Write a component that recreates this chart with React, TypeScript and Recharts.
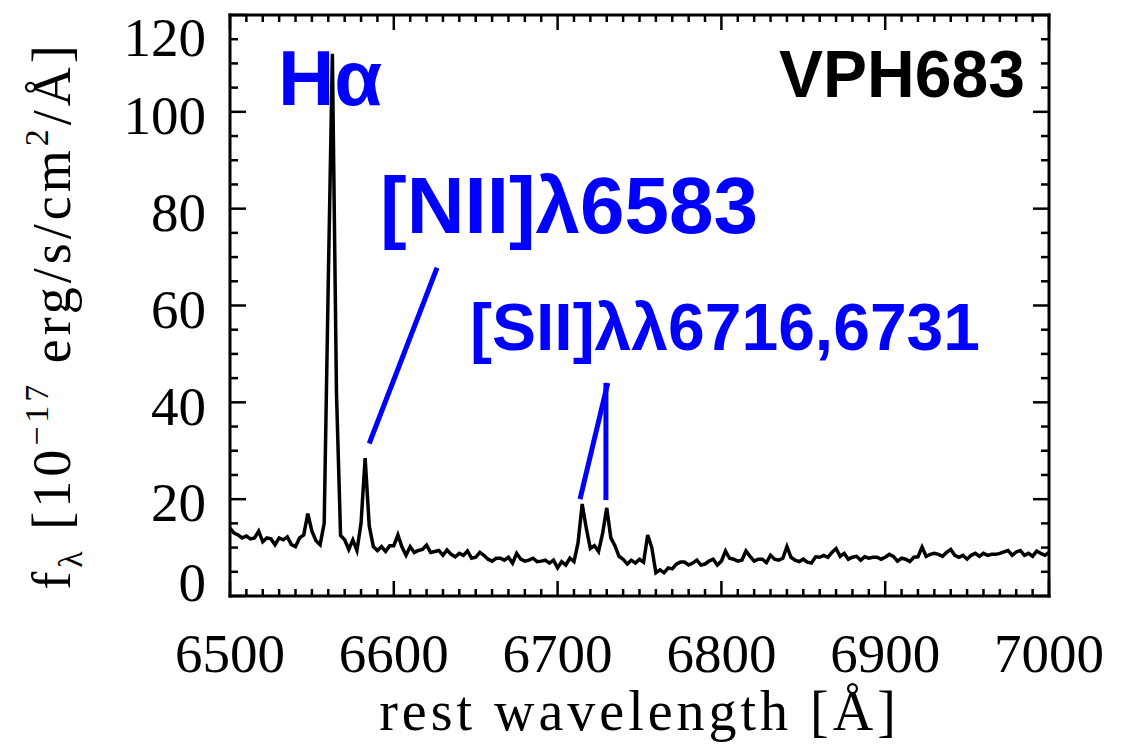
import React from 'react'
import { LineChart, Line, XAxis, YAxis, ReferenceLine, ReferenceDot } from 'recharts'

// spectrum sampled on a regular wavelength grid (Å), flux in 1e-17 erg/s/cm2/Å
const LAMBDA_START = 6500
const LAMBDA_STEP = 2.5
const FLUX = [
  14.0, 13.0, 12.6, 12.0, 12.4, 11.8, 12.0, 13.4, 11.2, 12.0,
  11.8, 10.6, 12.0, 11.6, 12.2, 10.6, 10.2, 12.0, 12.6, 17.0,
  13.4, 11.4, 10.6, 15.0, 65.0, 112.0, 42.0, 12.5, 11.6, 9.6,
  11.6, 9.4, 15.0, 28.5, 14.5, 10.2, 9.4, 10.2, 9.2, 10.4,
  10.4, 12.6, 10.1, 8.4, 10.2, 9.0, 9.4, 9.6, 10.5, 9.0,
  9.2, 9.4, 8.4, 9.5, 8.6, 8.1, 8.8, 8.4, 9.3, 7.8,
  8.0, 9.0, 8.4, 7.6, 7.2, 7.8, 7.8, 7.4, 8.0, 6.8,
  8.8, 7.6, 7.2, 7.4, 7.8, 7.1, 7.2, 7.4, 6.8, 7.4,
  5.8, 7.1, 6.4, 7.8, 7.1, 11.0, 19.0, 14.0, 9.8, 10.4,
  9.2, 13.0, 18.2, 12.0, 10.4, 8.2, 7.6, 6.6, 7.4, 6.8,
  7.6, 7.0, 12.6, 10.0, 4.8, 5.4, 4.8, 5.8, 5.6, 6.6,
  7.0, 7.0, 6.4, 6.8, 7.4, 6.4, 6.6, 7.2, 7.6, 6.4,
  7.2, 9.3, 7.8, 7.6, 7.2, 7.4, 9.3, 8.2, 7.2, 7.6,
  7.6, 6.9, 8.4, 7.6, 7.4, 7.8, 10.2, 8.0, 7.4, 7.1,
  7.6, 7.0, 6.8, 8.1, 8.0, 8.4, 8.0, 9.0, 9.8, 8.2,
  8.8, 7.6, 8.0, 8.2, 7.4, 8.1, 7.8, 8.0, 8.0, 7.6,
  8.0, 8.6, 8.2, 7.2, 7.8, 7.6, 7.1, 8.0, 8.1, 10.1,
  8.2, 8.6, 8.8, 8.6, 8.2, 9.0, 9.6, 8.4, 8.0, 8.4,
  7.6, 8.4, 8.8, 8.2, 8.8, 8.4, 8.6, 8.6, 8.8, 9.1,
  9.4, 8.4, 9.1, 9.4, 8.4, 8.8, 8.2, 9.3, 8.8, 8.4,
  9.0,
]

const X_DOMAIN = [6500, 7000]
const Y_DOMAIN = [0, 120]
const X_MAJOR_STEP = 100
const X_MINOR_STEP = 10
const Y_MAJOR_STEP = 20
const Y_MINOR_STEP = 5

// emission line labels (anchored in data coordinates)
const LABELS = [
  { text: 'Hα', x: 6529.3, y: 101.4, size: 78, color: '#0000ff', anchor: 'start' },
  { text: '[NII]λ6583', x: 6591.6, y: 74.9, size: 80, color: '#0000ff', anchor: 'start' },
  { text: '[SII]λλ6716,6731', x: 6646.5, y: 50.8, size: 66, color: '#0000ff', anchor: 'start' },
  { text: 'VPH683', x: 6985.3, y: 103.1, size: 66, color: '#000000', anchor: 'end' },
]

// leader lines from labels to the lines
const LEADERS = [
  [{ x: 6585.0, y: 31.5 }, { x: 6626.4, y: 67.8 }],
  [{ x: 6713.7, y: 20.0 }, { x: 6730.6, y: 44.0 }],
  [{ x: 6729.5, y: 19.8 }, { x: 6729.5, y: 44.0 }],
]

const data = FLUX.map((flux, i) => ({ wl: LAMBDA_START + i * LAMBDA_STEP, flux }))

const range = (a: number, b: number, step: number) => {
  const out: number[] = []
  for (let v = a; v <= b + 1e-9; v += step) out.push(v)
  return out
}
const xTicks = range(X_DOMAIN[0], X_DOMAIN[1], X_MINOR_STEP)
const yTicks = range(Y_DOMAIN[0], Y_DOMAIN[1], Y_MINOR_STEP)

const SERIF = '"Liberation Serif", "Times New Roman", serif'
const SANS = '"Liberation Sans", Arial, Helvetica, sans-serif'
const FRAME = { stroke: '#000', strokeWidth: 3, strokeLinecap: 'square' as const }
// tickSize + tickMargin: the tick props sit this far off the axis line
const TS = 4
const TM = 4
const OFF = TS + TM

// eslint-disable-next-line @typescript-eslint/no-explicit-any
const BottomTick = ({ x, y, payload }: any) => {
  const major = payload.value % X_MAJOR_STEP === 0
  const y0 = y - OFF
  return (
    <g>
      <line x1={x} x2={x} y1={y0} y2={y0 - (major ? 15 : 7)} stroke="#000" strokeWidth={2.5} />
      {major && (
        <text x={x} y={y0 + 76} textAnchor="middle" fontFamily={SERIF} fontSize={55} fill="#000">
          {payload.value}
        </text>
      )}
    </g>
  )
}

// eslint-disable-next-line @typescript-eslint/no-explicit-any
const TopTick = ({ x, y, payload }: any) => {
  const major = payload.value % X_MAJOR_STEP === 0
  const y0 = y + OFF
  return <line x1={x} x2={x} y1={y0} y2={y0 + (major ? 15 : 7)} stroke="#000" strokeWidth={2.5} />
}

// end labels sit a little inside the frame, as in the original figure
const yLabelShift = (v: number) => (v === Y_DOMAIN[1] ? 22 : v === Y_DOMAIN[0] ? -14 : 3)

// eslint-disable-next-line @typescript-eslint/no-explicit-any
const LeftTick = ({ x, y, payload }: any) => {
  const major = payload.value % Y_MAJOR_STEP === 0
  const x0 = x + OFF
  return (
    <g>
      <line x1={x0} x2={x0 + (major ? 16 : 8)} y1={y} y2={y} stroke="#000" strokeWidth={2.5} />
      {major && (
        <text
          x={x0 - 24}
          y={y + yLabelShift(payload.value)}
          dy="0.35em"
          textAnchor="end"
          fontFamily={SERIF}
          fontSize={55}
          fill="#000"
        >
          {payload.value}
        </text>
      )}
    </g>
  )
}

// eslint-disable-next-line @typescript-eslint/no-explicit-any
const RightTick = ({ x, y, payload }: any) => {
  const major = payload.value % Y_MAJOR_STEP === 0
  const x0 = x - OFF
  return <line x1={x0} x2={x0 - (major ? 16 : 8)} y1={y} y2={y} stroke="#000" strokeWidth={2.5} />
}

// eslint-disable-next-line @typescript-eslint/no-explicit-any
const YTitle = ({ viewBox }: any) => {
  const cx = viewBox.x + 70
  const cy = viewBox.y + viewBox.height / 2 + 10
  return (
    <text
      transform={`translate(${cx},${cy}) rotate(-90)`}
      textAnchor="middle"
      fontFamily={SERIF}
      fontSize={54}
      letterSpacing={4}
      fill="#000"
    >
      <tspan>f</tspan>
      <tspan fontSize={34} dy={12}>λ</tspan>
      <tspan dy={-12}> [10</tspan>
      <tspan fontSize={34} dy={-22}>−17</tspan>
      <tspan dy={22}> erg/s/cm</tspan>
      <tspan fontSize={34} dy={-22}>2</tspan>
      <tspan dy={22}>/Å]</tspan>
    </text>
  )
}

// eslint-disable-next-line @typescript-eslint/no-explicit-any
const XTitle = ({ viewBox }: any) => (
  <text
    x={viewBox.x + viewBox.width / 2}
    y={viewBox.y + 134}
    textAnchor="middle"
    fontFamily={SERIF}
    fontSize={56}
    letterSpacing={4}
    fill="#000"
  >
    rest wavelength [Å]
  </text>
)

export default function App() {
  return (
    <div style={{ position: 'absolute', left: 0, top: 0, background: '#fff' }}>
      <LineChart
        width={1134}
        height={744}
        data={data}
        margin={{ top: 14, right: 84, bottom: 0, left: 0 }}
      >
        <XAxis
          dataKey="wl"
          type="number"
          domain={X_DOMAIN}
          ticks={xTicks}
          interval={0}
          tickSize={TS}
          tickMargin={TM}
          tickLine={false}
          axisLine={FRAME}
          tick={<BottomTick />}
          height={148}
          label={<XTitle />}
        />
        <XAxis
          xAxisId="top"
          dataKey="wl"
          orientation="top"
          type="number"
          domain={X_DOMAIN}
          ticks={xTicks}
          interval={0}
          tickSize={TS}
          tickMargin={TM}
          tickLine={false}
          axisLine={FRAME}
          tick={<TopTick />}
          height={1}
        />
        <YAxis
          type="number"
          domain={Y_DOMAIN}
          ticks={yTicks}
          interval={0}
          tickSize={TS}
          tickMargin={TM}
          tickLine={false}
          axisLine={FRAME}
          tick={<LeftTick />}
          width={230}
          label={<YTitle />}
        />
        <YAxis
          yAxisId="right"
          orientation="right"
          type="number"
          domain={Y_DOMAIN}
          ticks={yTicks}
          interval={0}
          tickSize={TS}
          tickMargin={TM}
          tickLine={false}
          axisLine={FRAME}
          tick={<RightTick />}
          width={1}
        />
        {LEADERS.map((seg, i) => (
          <ReferenceLine key={i} segment={seg} stroke="#0000ff" strokeWidth={5} ifOverflow="visible" />
        ))}
        {/* invisible copy bound to the mirrored top/right axes so they are drawn */}
        <Line
          xAxisId="top"
          yAxisId="right"
          type="linear"
          dataKey="flux"
          stroke="none"
          dot={false}
          activeDot={false}
          legendType="none"
          isAnimationActive={false}
        />
        <Line
          type="linear"
          dataKey="flux"
          stroke="#000"
          strokeWidth={3.5}
          dot={false}
          isAnimationActive={false}
        />
        {LABELS.map((l) => (
          <ReferenceDot
            key={l.text}
            x={l.x}
            y={l.y}
            r={0}
            ifOverflow="visible"
            // eslint-disable-next-line @typescript-eslint/no-explicit-any
            shape={(p: any) => (
              <text
                x={p.cx}
                y={p.cy}
                textAnchor={l.anchor}
                fontFamily={SANS}
                fontWeight="bold"
                fontSize={l.size}
                fill={l.color}
              >
                {l.text}
              </text>
            )}
          />
        ))}
      </LineChart>
    </div>
  )
}
